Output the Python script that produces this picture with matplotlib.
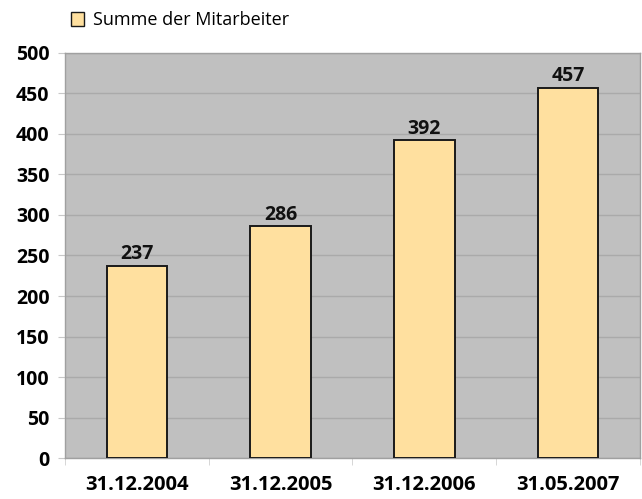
import matplotlib
matplotlib.use("Agg")
import matplotlib.pyplot as plt
from matplotlib.patches import Rectangle

# data
dates = ['31.12.2004', '31.12.2005', '31.12.2006', '31.05.2007']
mitarbeiter = [237, 286, 392, 457]
y_ticks = [0, 50, 100, 150, 200, 250, 300, 350, 400, 450, 500]
legend_label = 'Summe der Mitarbeiter'

plt.rcParams['font.family'] = ['Open Sans', 'DejaVu Sans']

fig = plt.figure(figsize=(6.42, 4.99), dpi=100)
ax = fig.add_axes([0.101, 0.082, 0.896, 0.812])
ax.set_facecolor('#c0c0c0')

x = range(len(dates))
bars = ax.bar(x, mitarbeiter, width=0.42, color='#ffe09f', edgecolor='#1a1a1a',
              linewidth=1.4, zorder=3, label=legend_label)

# value labels above the bars
for xi, v in zip(x, mitarbeiter):
    ax.text(xi, v + 2, str(v), ha='center', va='bottom', fontsize=14,
            fontweight='bold', color='#111111')

ax.set_ylim(0, 500)
ax.set_xlim(-0.5, len(dates) - 0.5)
ax.set_yticks(y_ticks)
ax.set_yticklabels([str(t) for t in y_ticks], fontsize=14, fontweight='bold')
ax.set_xticks(list(x))
ax.set_xticklabels(dates, fontsize=14.5, fontweight='bold')
ax.tick_params(axis='x', length=0, pad=12)
ax.tick_params(axis='y', length=5, color='#c8c8c8', pad=6)

# category separators on the x axis
ax.set_xticks([i + 0.5 for i in range(-1, len(dates))], minor=True)
ax.tick_params(axis='x', which='minor', length=5, color='#d0d0d0')

ax.grid(axis='y', color='#aaaaaa', linewidth=1.0, zorder=0)
for side in ['top', 'right', 'left', 'bottom']:
    ax.spines[side].set_color('#a0a0a0')
    ax.spines[side].set_linewidth(1.0)

# legend above the plot, top left
leg = fig.legend(handles=[Rectangle((0, 0), 1, 1, facecolor='#ffe09f', edgecolor='#1a1a1a', linewidth=1.0)],
                 labels=[legend_label], loc='upper left', bbox_to_anchor=(0.085, 1.01),
                 frameon=False, fontsize=13, handlelength=0.75, handleheight=0.75,
                 handletextpad=0.5)

fig.savefig('out.png', dpi=100)
